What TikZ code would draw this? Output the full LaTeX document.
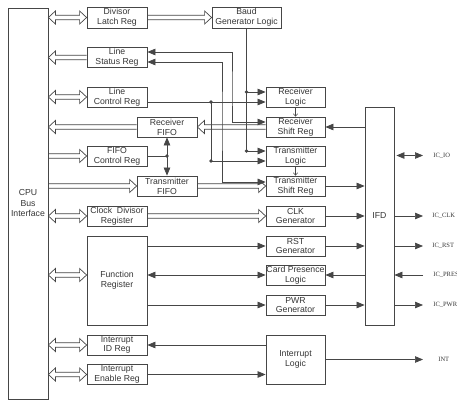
\documentclass[tikz,border=0pt]{standalone}
\usepackage{fontspec}
\setmainfont{Liberation Sans}
\newfontfamily\lblfont{Liberation Serif}
\usetikzlibrary{arrows.meta,calc}
\definecolor{ln}{RGB}{70,70,70}
\definecolor{tx}{RGB}{55,55,55}
% hollow (double-line) arrow, head at #2
\newcommand\hol[2]{\draw[hl] let \p1=(#1), \p2=(#2), \n1={sign(\x2-\x1)} in
  (\x1,\y1+2.3pt) -- ({\x2-\n1*7pt},\y1+2.3pt) -- ({\x2-\n1*7pt},\y1+6.5pt) -- (\x2,\y1)
  -- ({\x2-\n1*7pt},\y1-6.5pt) -- ({\x2-\n1*7pt},\y1-2.3pt) -- (\x1,\y1-2.3pt);}
% hollow (double-line) arrow, heads at both ends
\newcommand\hold[2]{\draw[hl] let \p1=(#1), \p2=(#2), \n1={sign(\x2-\x1)} in
  (\x1,\y1) -- ({\x1+\n1*7pt},\y1+6.5pt) -- ({\x1+\n1*7pt},\y1+2.3pt) -- ({\x2-\n1*7pt},\y1+2.3pt)
  -- ({\x2-\n1*7pt},\y1+6.5pt) -- (\x2,\y1) -- ({\x2-\n1*7pt},\y1-6.5pt) -- ({\x2-\n1*7pt},\y1-2.3pt)
  -- ({\x1+\n1*7pt},\y1-2.3pt) -- ({\x1+\n1*7pt},\y1-6.5pt) -- cycle;}
\newcommand\bx[6]{\node[box,minimum width=#4pt,minimum height=#5pt] (#1) at (#2,#3) {#6};}
\begin{document}
\begin{tikzpicture}[x=1pt,y=-1pt,
  line width=0.7pt, color=ln,
  >={Triangle[length=8pt,width=6.5pt]},
  box/.style={draw=ln,line width=0.8pt,inner sep=0pt,align=center,text=tx,
    font=\fontsize{8.7}{9.8}\selectfont},
  hl/.style={draw=ln,line width=0.7pt,line join=miter},
  thin/.style={line width=0.5pt,-{Straight Barb[length=2.5pt,width=4.5pt]}},
  lbl/.style={inner sep=0pt,anchor=west,text=tx,font=\lblfont\fontsize{6.5}{7.5}\selectfont},
  dot/.style={fill=ln}]
\useasboundingbox (0,0) rectangle (457,406);
\fill[white] (0,0) rectangle (457,406);
% boxes
\node[box,minimum width=40pt,minimum height=391pt,font=\fontsize{8.7}{10.5}\selectfont] (cpu) at (28,203.5) {CPU\\Bus\\Interface};
\bx{dlr}{117}{17.5}{60}{21}{Divisor\\Latch Reg}
\bx{baud}{246.5}{17.5}{69}{21}{Baud\\Generator Logic}
\bx{lsr}{117}{57.5}{60}{20}{Line\\Status Reg}
\bx{lcr}{117}{97}{60}{20}{Line\\Control Reg}
\bx{rxf}{167}{127}{60}{20}{Receiver\\FIFO}
\bx{fcr}{117}{156}{60}{20}{FIFO\\Control Reg}
\bx{txf}{167}{186}{60}{20}{Transmitter\\FIFO}
\bx{cdr}{117}{216}{60}{20}{Clock~~Divisor\\Register}
\bx{fr}{117}{280.5}{60}{89}{Function\\Register}
\bx{iid}{117}{345}{60}{20}{Interrupt\\ID Reg}
\bx{ien}{117}{374.5}{60}{20}{Interrupt\\Enable Reg}
\bx{rxl}{295.5}{97}{59}{20}{Receiver\\Logic}
\bx{rxs}{295.5}{127}{59}{20}{Receiver\\Shift Reg}
\bx{txl}{295.5}{156}{59}{20}{Transmitter\\Logic}
\bx{txs}{295.5}{186}{59}{20}{Transmitter\\Shift Reg}
\bx{clk}{295.5}{216}{59}{20}{CLK\\Generator}
\bx{rst}{295.5}{246}{59}{20}{RST\\Generator}
\bx{cpl}{295.5}{275}{59}{20}{Card Presence\\Logic}
\bx{pwr}{295.5}{305}{59}{20}{PWR\\Generator}
\bx{il}{295.5}{359.5}{59}{49}{Interrupt\\Logic}
\bx{ifd}{379.5}{216}{29}{218}{IFD}
% right labels
\node[lbl] (lio) at (433,155.5) {IC\_IO};
\node[lbl] (lclk) at (432,216) {IC\_CLK};
\node[lbl] (lrst) at (432,246) {IC\_RST};
\node[lbl] (lpres) at (433,275) {IC\_PRES};
\node[lbl] (lpwr) at (433,305) {IC\_PWR};
\node[lbl] (lint) at (438,359.5) {INT};
% hollow arrows
\hold{cpu.east|-dlr.west}{dlr.west}
\hol{dlr.east}{baud.west}
\hol{lsr.west}{cpu.east|-lsr.west}
\hold{cpu.east|-lcr.west}{lcr.west}
\hol{rxf.west}{cpu.east|-rxf.west}
\hol{cpu.east|-fcr.west}{fcr.west}
\hol{cpu.east|-txf.west}{txf.west}
\hold{cpu.east|-cdr.west}{cdr.west}
\coordinate (frA) at ([yshift=5.5pt]fr.west);
\hold{cpu.east|-frA}{frA}
\hold{cpu.east|-iid.west}{iid.west}
\hold{cpu.east|-ien.west}{ien.west}
\hol{rxs.west}{rxf.east}
\hol{txf.east}{txs.west}
\hol{cdr.east}{clk.west}
% control wires
\coordinate (j1) at ([yshift=-5pt]lcr.east-|211,0);
\coordinate (j2) at ([yshift=-5pt]txl.west-|211,0);
\draw[->] ([yshift=-5pt]lcr.east) -- ([yshift=-5pt]rxl.west);
\draw[->] (j1) -- (j2) -- ([yshift=-5pt]txl.west);
\coordinate (b1) at ([yshift=5pt]rxl.west-|baud.south);
\coordinate (b2) at ([yshift=5pt]txl.west-|baud.south);
\draw (baud.south) -- (b2);
\draw[->] (b1) -- ([yshift=5pt]rxl.west);
\draw[->] (b2) -- ([yshift=5pt]txl.west);
\coordinate (k1) at (232,90);
\coordinate (k2) at (222,120);
\draw[<->] ([yshift=5.5pt]lsr.east) -| (k1) |- ([yshift=5pt]rxs.west);
\draw[<->] ([yshift=-4.5pt]lsr.east) -| (k2) |- ([yshift=4pt]txs.west);
\draw[thin] (rxl.south) -- (rxs.north);
\draw[thin] (txl.south) -- (txs.north);
\coordinate (j5) at (rxf.south|-fcr.east);
\draw[<->] (rxf.south) -- (txf.north);
\draw (fcr.east) -- (j5);
\foreach \d in {j1,j2,b1,b2,j5} \fill[dot] (\d) circle (1.8pt);
% function register
\draw[->] (fr.east|-rst.west) -- (rst.west);
\draw[<->] (fr.east|-cpl.west) -- (cpl.west);
\draw[->] (fr.east|-pwr.west) -- (pwr.west);
% interrupt
\draw[->] (il.west|-iid.east) -- (iid.east);
\draw[->] (ien.east) -- (ien.east-|il.west);
\draw[->] (il.east) -- ([xshift=-15pt]lint.west);
% IFD
\draw[->] (ifd.west|-rxs.east) -- (rxs.east);
\draw[->] (txs.east) -- (txs.east-|ifd.west);
\draw[->] (clk.east) -- (clk.east-|ifd.west);
\draw[->] (rst.east) -- (rst.east-|ifd.west);
\draw[->] (ifd.west|-cpl.east) -- (cpl.east);
\draw[->] (pwr.east) -- (pwr.east-|ifd.west);
\draw[<->] ([xshift=2pt]ifd.east|-lio.west) -- ([xshift=-10pt]lio.west);
\draw[->] (ifd.east|-lclk.west) -- ([xshift=-9pt]lclk.west);
\draw[->] (ifd.east|-lrst.west) -- ([xshift=-9pt]lrst.west);
\draw[->] ([xshift=-10pt]lpres.west) -- (ifd.east|-lpres.west);
\draw[->] (ifd.east|-lpwr.west) -- ([xshift=-10pt]lpwr.west);
\end{tikzpicture}
\end{document}
